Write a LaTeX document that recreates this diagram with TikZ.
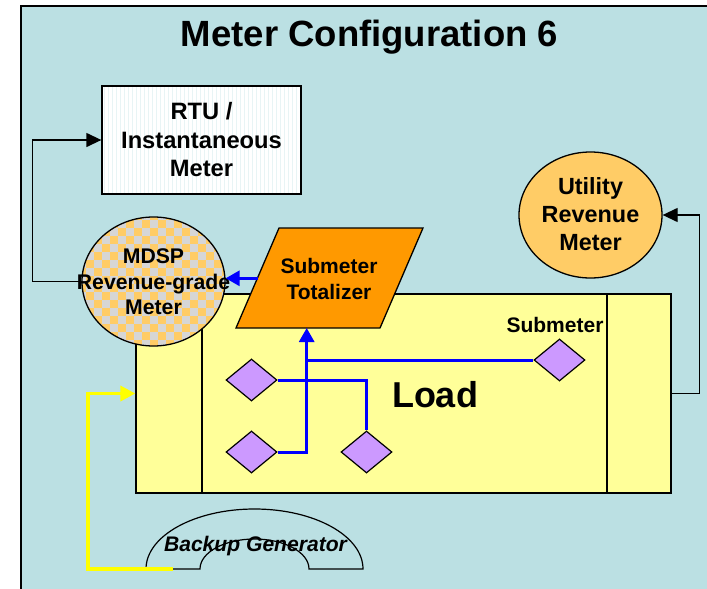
\documentclass[tikz,border=0pt]{standalone}
\usepackage{fontspec}
\setmainfont{Liberation Sans}
\usetikzlibrary{shapes.geometric,arrows.meta}
\definecolor{bgblue}{RGB}{187,224,227}
\definecolor{loady}{RGB}{255,255,153}
\definecolor{utilor}{RGB}{255,204,102}
\definecolor{totor}{RGB}{255,153,0}
\definecolor{diam}{RGB}{204,153,255}
\definecolor{chkgray}{RGB}{214,214,214}
\definecolor{gridc}{RGB}{232,244,245}
\definecolor{bluel}{RGB}{0,0,255}
\definecolor{yel}{RGB}{255,255,0}
\begin{document}
\begin{tikzpicture}[x=1pt,y=-1pt,
  box/.style={draw=black, line width=1.3pt},
  dia/.style={diamond, draw=black, line width=1.2pt, fill=diam, minimum width=51pt, minimum height=42pt, inner sep=0pt},
  blk/.style={draw=black, line width=1.3pt, -{Triangle[length=15pt,width=14pt]}},
  bluearr/.style={draw=bluel, line width=3pt, -{Triangle[length=14pt,width=15pt]}},
  blueln/.style={draw=bluel, line width=3pt},
  yelarr/.style={draw=yel, line width=3.5pt, -{Triangle[length=15pt,width=15pt]}},
  lbl/.style={inner sep=0pt, align=center}
]
\useasboundingbox (0,0) rectangle (707,589);
\clip (0,0) rectangle (707,589);
\fill[white] (0,0) rectangle (707,589);
\draw[fill=bgblue, line width=1.6pt] (21,6) rectangle (740,620);

% title
\node[lbl, font=\bfseries\fontsize{36.5}{40}\selectfont, anchor=base] (title) at (369.5,46) {Meter Configuration 6};

% RTU box
\fill[white] (102,86) rectangle (301,194);
\begin{scope}
  \clip (102,86) rectangle (301,194);
  \draw[gridc, line width=0.5pt, step=4] (100,84) grid (304,196);
\end{scope}
\node[box, rectangle, minimum width=199pt, minimum height=108pt, inner sep=0pt] (rtu) at (201.5,140) {};
\node[lbl, font=\bfseries\fontsize{23.7}{28.5}\selectfont] (rtutext) at (201.5,140) {RTU /\\Instantaneous\\Meter};

% Load box
\node[box, rectangle, fill=loady, minimum width=535pt, minimum height=199pt, inner sep=0pt] (load) at (403.5,393.5) {};
\draw[line width=1.2pt] (202,294) -- (202,493);
\draw[line width=1.2pt] (607,294) -- (607,493);
\node[lbl, font=\bfseries\fontsize{36}{40}\selectfont, anchor=base] (loadtext) at (435,407.7) {Load};
\node[lbl, font=\bfseries\fontsize{21}{25}\selectfont, anchor=base] (subtext) at (555,332) {Submeter};

% MDSP ellipse (checkered)
\begin{scope}
  \clip (153.5,281.5) ellipse [x radius=71.5, y radius=64.5];
  \fill[utilor] (78,212) rectangle (230,350);
  \foreach \i in {0,...,19} {
    \foreach \j in {0,...,17} {
      \pgfmathtruncatemacro\mymod{mod(\i+\j,2)}
      \ifnum\mymod=0
        \fill[chkgray] (78+8*\i,212+8*\j) rectangle ++(8,8);
      \fi
    }
  }
\end{scope}
\node[ellipse, draw=black, line width=1.3pt, minimum width=143pt, minimum height=129pt, inner sep=0pt] (mdsp) at (153.5,281.5) {};
\node[lbl, font=\bfseries\fontsize{21.2}{25.5}\selectfont] (mdsptext) at (153.5,282) {MDSP\\Revenue-grade\\Meter};

% Submeter totalizer
\draw[box, fill=totor] (279,228) -- (423,228) -- (380,328) -- (236,328) -- cycle;
\coordinate (totW) at (257.5,278.3);
\coordinate (totS) at (306.7,328);
\node[lbl, font=\bfseries\fontsize{21}{26}\selectfont] (tot) at (329,278.5) {Submeter\\Totalizer};

% Utility
\node[ellipse, draw=black, line width=1.3pt, fill=utilor, minimum width=143pt, minimum height=126pt, inner sep=0pt] (util) at (590.5,215) {};
\node[lbl, font=\bfseries\fontsize{23.4}{28}\selectfont] (utiltext) at (590.5,214.5) {Utility\\Revenue\\Meter};

% diamonds
\node[dia] (d1) at (251.5,380) {};
\node[dia] (d2) at (251.5,452) {};
\node[dia] (d3) at (366.5,452) {};
\node[dia] (d4) at (559.5,360) {};

% blue connectors
\draw[blueln] (d1.east) -| (d3.north);
\draw[blueln] (totS |- d4.west) -- (d4.west);
\draw[bluearr] (d2.east) -| (totS);
\draw[bluearr] (totW) -- (totW -| mdsp.east);

% black connectors
\draw[blk] (mdsp.west) -- ++(-49,0) |- (rtu.west);
\draw[blk] (load.east) -- ++(28,0) |- (util.east);

% backup generator
\draw[line width=1.2pt] (146,569) arc[start angle=180, end angle=360, x radius=108.5, y radius=60] -- (309,569) arc[start angle=0, end angle=-180, x radius=54.5, y radius=30] -- cycle;
\node[lbl, font=\bfseries\itshape\fontsize{21.1}{25}\selectfont, anchor=base] (gentext) at (255.5,551.7) {Backup Generator};
\coordinate (gen) at (173,569);
\draw[yelarr] (gen) -- (88,569) |- (load.west);
\end{tikzpicture}
\end{document}
